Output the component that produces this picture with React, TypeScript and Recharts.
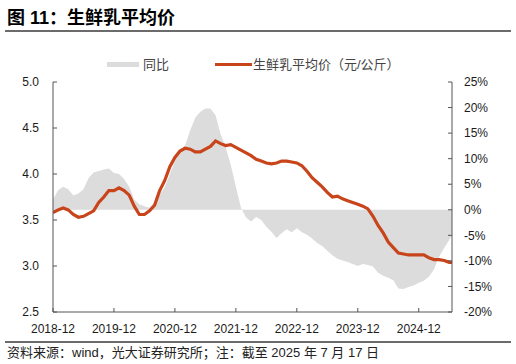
import React from 'react'
import { ComposedChart, Area, Line, XAxis, YAxis } from 'recharts'

const FONT = '"Liberation Sans", Arial, "Noto Sans CJK SC", sans-serif'

// x 轴：按月序号（0 = 2018-12），最后一点为 2025-07-17
const X_LABELS = ['2018-12', '2019-12', '2020-12', '2021-12', '2022-12', '2023-12', '2024-12']
const X_TICKS = [0, 12, 24, 36, 48, 60, 72]
const X_END = 78.55

const LEFT_TICKS = [2.5, 3.0, 3.5, 4.0, 4.5, 5.0]
const RIGHT_TICKS = [-20, -15, -10, -5, 0, 5, 10, 15, 20, 25]

// 生鲜乳平均价（元/公斤），月度
const PRICE = [
  3.58, 3.61, 3.63, 3.61, 3.56, 3.53, 3.54, 3.57, 3.60, 3.69,
  3.75, 3.82, 3.82, 3.85, 3.82, 3.77, 3.65, 3.56, 3.56, 3.60,
  3.66, 3.82, 3.93, 4.08, 4.18, 4.25, 4.28, 4.27, 4.24, 4.24,
  4.27, 4.30, 4.36, 4.33, 4.31, 4.32, 4.29, 4.26, 4.23, 4.20,
  4.16, 4.14, 4.12, 4.11, 4.12, 4.14, 4.14, 4.13, 4.12, 4.09,
  4.03, 3.96, 3.91, 3.86, 3.80, 3.75, 3.76, 3.73, 3.71, 3.69,
  3.67, 3.65, 3.62, 3.54, 3.44, 3.36, 3.26, 3.20, 3.14, 3.13,
  3.12, 3.12, 3.12, 3.12, 3.09, 3.07, 3.07, 3.06, 3.04, 3.04,
]

// 同比（%）
const YOY = [
  2.0, 3.8, 4.5, 4.0, 2.8, 3.2, 4.0, 6.2, 7.3, 7.6,
  7.9, 8.1, 7.2, 7.0, 6.0, 4.5, 2.0, 1.1, 0.7, 0.4,
  1.5, 3.0, 4.4, 7.0, 9.5, 11.5, 12.6, 15.5, 18.0, 19.2,
  19.8, 19.8, 18.5, 14.8, 12.2, 8.8, 4.5, 0.4, -1.5, -2.3,
  -1.4, -2.0, -3.3, -4.3, -5.5, -4.6, -3.8, -4.4, -3.6, -4.4,
  -4.9, -5.6, -6.5, -7.1, -8.0, -8.9, -9.6, -9.9, -10.2, -10.6,
  -11.0, -10.6, -10.8, -11.1, -12.3, -12.9, -13.3, -13.8, -15.4, -15.5,
  -15.1, -14.8, -14.3, -13.9, -13.1, -11.7, -9.2, -7.5, -5.9, -5.0,
]

const data = PRICE.map((p, i) => ({
  m: i < PRICE.length - 1 ? i : X_END,
  price: p,
  yoy: YOY[i],
}))

const AXIS_COLOR = '#555'
const TICK_STYLE = { fontSize: 12, fill: '#1a1a1a', fontFamily: FONT }

export default function App() {
  return (
    <div style={{ position: 'absolute', left: 0, top: 0, width: 516, height: 364, background: '#fff', fontFamily: FONT }}>
      {/* 标题 */}
      <div style={{ position: 'absolute', left: 7, top: 3, fontSize: 18, fontWeight: 'bold', color: '#000', whiteSpace: 'nowrap' }}>
        图 11：生鲜乳平均价
      </div>
      <div style={{ position: 'absolute', left: 5, top: 30, width: 506, height: 2, background: '#6b6b6b' }} />

      {/* 图例 */}
      <div style={{ position: 'absolute', left: 107, top: 62, width: 32, height: 5, background: '#dcdcdc' }} />
      <div style={{ position: 'absolute', left: 143, top: 56, fontSize: 13, lineHeight: '18px', color: '#444' }}>同比</div>
      <div style={{ position: 'absolute', left: 215, top: 63, width: 37, height: 3, background: '#c8451c' }} />
      <div style={{ position: 'absolute', left: 253, top: 56, fontSize: 13, lineHeight: '18px', color: '#444', whiteSpace: 'nowrap' }}>
        生鲜乳平均价（元/公斤）
      </div>

      <ComposedChart
        width={516}
        height={364}
        data={data}
        margin={{ top: 82, right: 0, bottom: 0, left: 0 }}
        style={{ position: 'absolute', left: 0, top: 0 }}
      >
        <XAxis
          dataKey="m"
          type="number"
          domain={[0, X_END]}
          ticks={X_TICKS}
          tickFormatter={(v: number) => X_LABELS[X_TICKS.indexOf(v)] ?? ''}
          height={52}
          tickSize={-4}
          tickMargin={16}
          stroke={AXIS_COLOR}
          tick={TICK_STYLE}
          allowDataOverflow
        />
        <YAxis
          yAxisId="left"
          orientation="left"
          domain={[2.5, 5]}
          ticks={LEFT_TICKS}
          tickFormatter={(v: number) => v.toFixed(1)}
          width={53}
          tickSize={-4}
          tickMargin={18}
          stroke={AXIS_COLOR}
          tick={TICK_STYLE}
        />
        <YAxis
          yAxisId="right"
          orientation="right"
          domain={[-20, 25]}
          ticks={RIGHT_TICKS}
          tickFormatter={(v: number) => `${v}%`}
          width={64}
          tickSize={-4}
          tickMargin={16}
          stroke={AXIS_COLOR}
          tick={TICK_STYLE}
        />
        <Area
          yAxisId="right"
          dataKey="yoy"
          type="linear"
          baseValue={0}
          fill="#dcdcdc"
          fillOpacity={1}
          stroke="none"
          isAnimationActive={false}
        />
        <Line
          yAxisId="left"
          dataKey="price"
          type="linear"
          stroke="#c8451c"
          strokeWidth={3.2}
          dot={false}
          isAnimationActive={false}
        />
      </ComposedChart>

      {/* 资料来源 */}
      <div style={{ position: 'absolute', left: 5, top: 341, width: 506, height: 2, background: '#6b6b6b' }} />
      <div style={{ position: 'absolute', left: 7, top: 344, fontSize: 13, lineHeight: '18px', color: '#222', whiteSpace: 'nowrap' }}>
        资料来源：wind，光大证券研究所；注：截至 2025 年 7 月 17 日
      </div>
    </div>
  )
}
